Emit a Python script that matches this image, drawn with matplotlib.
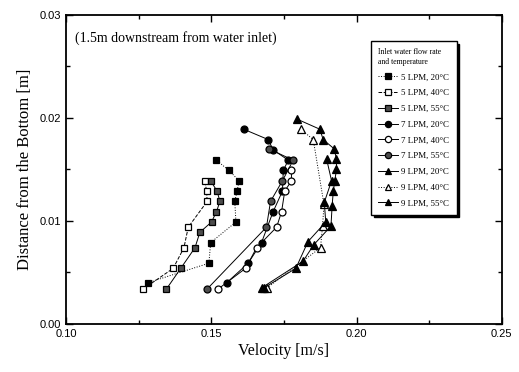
import matplotlib
matplotlib.use("Agg")
import matplotlib.pyplot as plt
from matplotlib.ticker import MultipleLocator, FormatStrFormatter

# velocity [m/s] and distance from the bottom [m]
v_5lpm_20 = [0.1281, 0.1492, 0.1498, 0.1585, 0.1581, 0.1589, 0.1596, 0.1561, 0.1518]
y_5lpm_20 = [0.0040, 0.0059, 0.0079, 0.0099, 0.0119, 0.0129, 0.0139, 0.0149, 0.0159]

v_5lpm_40 = [0.1266, 0.1369, 0.1406, 0.1421, 0.1486, 0.1484, 0.1478]
y_5lpm_40 = [0.0034, 0.0054, 0.0074, 0.0094, 0.0119, 0.0129, 0.0139]

v_5lpm_55 = [0.1346, 0.1395, 0.1444, 0.1461, 0.1501, 0.1518, 0.1530, 0.1520, 0.1498]
y_5lpm_55 = [0.0034, 0.0054, 0.0074, 0.0089, 0.0099, 0.0109, 0.0119, 0.0129, 0.0139]

v_7lpm_20 = [0.1553, 0.1627, 0.1673, 0.1713, 0.1745, 0.1748, 0.1765, 0.1713, 0.1696, 0.1612]
y_7lpm_20 = [0.0040, 0.0059, 0.0079, 0.0109, 0.0129, 0.0149, 0.0159, 0.0169, 0.0179, 0.0189]

v_7lpm_40 = [0.1524, 0.1618, 0.1656, 0.1725, 0.1742, 0.1753, 0.1776, 0.1776]
y_7lpm_40 = [0.0034, 0.0054, 0.0074, 0.0094, 0.0109, 0.0129, 0.0139, 0.0149]

v_7lpm_55 = [0.1486, 0.1690, 0.1704, 0.1745, 0.1782, 0.1698]
y_7lpm_55 = [0.0034, 0.0094, 0.0119, 0.0139, 0.0159, 0.0170]

v_9lpm_20 = [0.1673, 0.1816, 0.1853, 0.1912, 0.1916, 0.1920, 0.1925, 0.1931, 0.1931,
             0.1923, 0.1885, 0.1874, 0.1794]
y_9lpm_20 = [0.0035, 0.0061, 0.0077, 0.0095, 0.0115, 0.0129, 0.0139, 0.0150, 0.0160,
             0.0170, 0.0179, 0.0189, 0.0199]

v_9lpm_40 = [0.1692, 0.1876, 0.1883, 0.1888, 0.1851, 0.1808]
y_9lpm_40 = [0.0035, 0.0074, 0.0095, 0.0116, 0.0179, 0.0189]

v_9lpm_55 = [0.1681, 0.1791, 0.1833, 0.1894, 0.1889, 0.1914, 0.1897]
y_9lpm_55 = [0.0035, 0.0054, 0.0080, 0.0099, 0.0118, 0.0139, 0.0160]

labels = ["5 LPM, 20\u00b0C", "5 LPM, 40\u00b0C", "5 LPM, 55\u00b0C",
          "7 LPM, 20\u00b0C", "7 LPM, 40\u00b0C", "7 LPM, 55\u00b0C",
          "9 LPM, 20\u00b0C", "9 LPM, 40\u00b0C", "9 LPM, 55\u00b0C"]

SERIF = "Liberation Serif"
SANS = "Liberation Sans"

# (marker, facecolor, linestyle)
styles = [("s", "k", ":"), ("s", "w", "--"), ("s", "0.3", "-"),
          ("o", "k", "-"), ("o", "w", "-"), ("o", "0.3", "-"),
          ("^", "k", "-"), ("^", "w", ":"), ("^", "k", "-")]

series = [(v_5lpm_20, y_5lpm_20), (v_5lpm_40, y_5lpm_40), (v_5lpm_55, y_5lpm_55),
          (v_7lpm_20, y_7lpm_20), (v_7lpm_40, y_7lpm_40), (v_7lpm_55, y_7lpm_55),
          (v_9lpm_20, y_9lpm_20), (v_9lpm_40, y_9lpm_40), (v_9lpm_55, y_9lpm_55)]

fig = plt.figure(figsize=(5.19, 3.72), dpi=100)
ax = fig.add_axes([0.127, 0.129, 0.840, 0.831])

for (v, y), (marker, face, ls), label in zip(series, styles, labels):
    ms = 5.5 if marker == "^" else 5
    ax.plot(v, y, linestyle=ls, color="k", linewidth=0.7, marker=marker, markersize=ms,
            markerfacecolor=face, markeredgecolor="k", markeredgewidth=0.9, label=label)

ax.set_xlim(0.10, 0.25)
ax.set_ylim(0.0, 0.03)
ax.xaxis.set_major_locator(MultipleLocator(0.05))
ax.xaxis.set_minor_locator(MultipleLocator(0.025))
ax.yaxis.set_major_locator(MultipleLocator(0.01))
ax.yaxis.set_minor_locator(MultipleLocator(0.005))
ax.xaxis.set_major_formatter(FormatStrFormatter("%.2f"))
ax.yaxis.set_major_formatter(FormatStrFormatter("%.2f"))
ax.tick_params(which="both", direction="in", top=True, right=True, width=1.0)
ax.tick_params(which="major", length=5, labelsize=8)
ax.tick_params(which="minor", length=3)
for lab in ax.get_xticklabels() + ax.get_yticklabels():
    lab.set_family(SANS)
for spine in ax.spines.values():
    spine.set_linewidth(1.3)

ax.set_xlabel("Velocity [m/s]", family=SERIF, fontsize=11.5, labelpad=3)
ax.set_ylabel("Distance from the Bottom [m]", family=SERIF, fontsize=12, labelpad=5)

ax.text(0.02, 0.925, "(1.5m downstream from water inlet)", transform=ax.transAxes,
        family=SERIF, fontsize=10, va="center", ha="left")

leg = ax.legend(loc="upper left", bbox_to_anchor=(0.690, 0.929), frameon=True,
                fancybox=False, shadow={"color": "k", "alpha": 1.0},
                title="Inlet water flow rate\nand temperature",
                prop={"family": SERIF, "size": 6.4}, title_fontproperties={"family": SERIF, "size": 5.6},
                labelspacing=0.85, handlelength=2.2, handletextpad=0.4, borderpad=0.8,
                markerscale=0.9)
leg._legend_box.align = "left"
leg.get_frame().set_edgecolor("k")
leg.get_frame().set_linewidth(1.0)

fig.savefig("out.png", dpi=100)
